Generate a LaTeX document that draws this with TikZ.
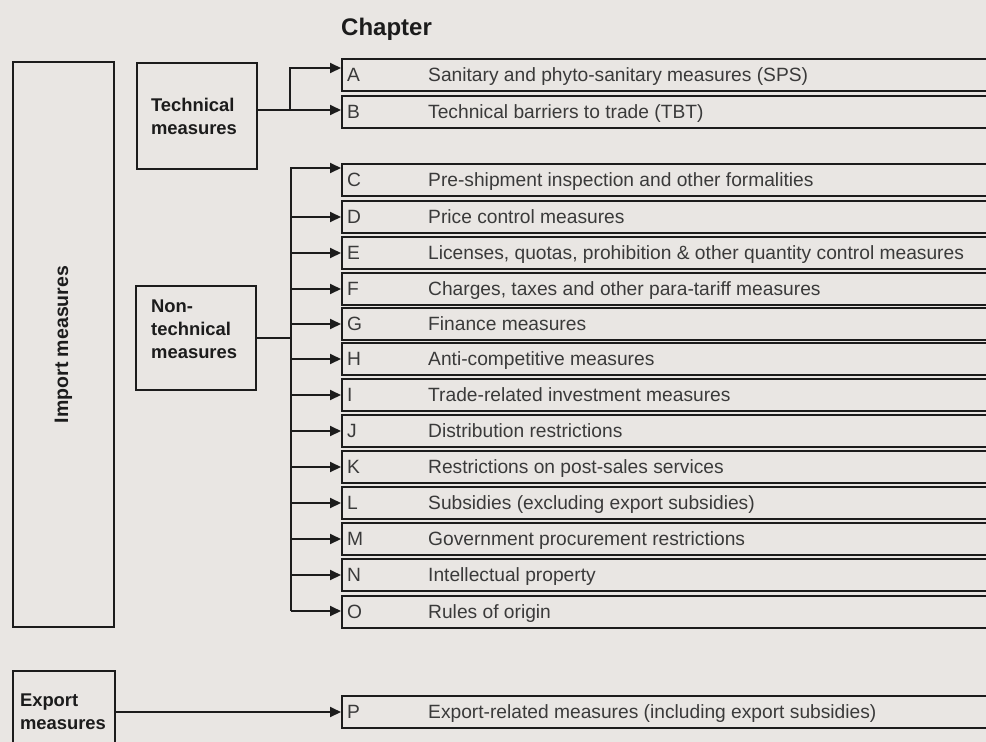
\documentclass[tikz,border=0pt]{standalone}
\usepackage{fontspec}
\setmainfont{Liberation Sans}
\usetikzlibrary{arrows.meta}
\definecolor{bg}{HTML}{E9E6E3}
\definecolor{ink}{HTML}{1C1C1C}
\definecolor{txt}{HTML}{3A3A3A}
% one chapter row: name, top, letter, text
\newcommand{\chaprow}[4]{%
  \node[chap] (#1) at (341,#2) {};
  \node[code] (#1l) at ([xshift=6pt,yshift=-6.7pt]#1.west) {#3};
  \node[code] (#1t) at ([xshift=87pt,yshift=-6.7pt]#1.west) {#4};}

\begin{document}
\begin{tikzpicture}[x=1pt, y=-1pt, >={Triangle[length=11pt,width=10pt]},
  every node/.style={font=\fontsize{19.2}{23}\selectfont, text=txt},
  frame/.style={draw=ink, line width=2pt},
  label/.style={align=left, font=\bfseries\fontsize{18.4}{23}\selectfont, text=ink},
  group/.style={frame, label, anchor=north west, inner ysep=0pt},
  chap/.style={frame, anchor=north west, inner sep=0pt, minimum width=680pt, minimum height=32pt},
  code/.style={anchor=base west, inner sep=0pt},
  link/.style={draw=ink, line width=2pt}]
\useasboundingbox (0,0) rectangle (986,742);
\fill[bg] (0,0) rectangle (986,742);
\clip (0,0) rectangle (986,742);

% Heading
\node[anchor=base west, inner sep=0pt, font=\bfseries\fontsize{24}{28}\selectfont, text=ink] (chaphead) at (341,35) {Chapter};

% Left boxes
\node[frame, anchor=north west, minimum width=101pt, minimum height=565pt] (imp) at (12,61) {};
\node[rotate=90, font=\bfseries\fontsize{19.5}{23}\selectfont, text=ink] (imptxt) at (imp.center) {Import measures};
\node[group, inner xsep=14pt, text width=92pt, minimum height=106pt] (tech) at (136,62) {Technical\\measures};
\node[group, inner xsep=16pt, text width=88pt, minimum height=104pt] (ntech) at (135,285) {};
\node[label, anchor=west, inner sep=0pt, text width=88pt] (ntechtxt) at ([xshift=16pt,yshift=9pt]ntech.west) {Non-\\technical\\measures};
\node[group, inner xsep=7pt, text width=88pt, minimum height=82pt] (expo) at (12,670) {Export\\measures};

% Chapter rows
\chaprow{chA}{58}{A}{Sanitary and phyto-sanitary measures (SPS)}
\chaprow{chB}{95}{B}{Technical barriers to trade (TBT)}
\chaprow{chC}{163}{C}{Pre-shipment inspection and other formalities}
\chaprow{chD}{200}{D}{Price control measures}
\chaprow{chE}{236}{E}{Licenses, quotas, prohibition \& other quantity control measures}
\chaprow{chF}{272}{F}{Charges, taxes and other para-tariff measures}
\chaprow{chG}{307}{G}{Finance measures}
\chaprow{chH}{342}{H}{Anti-competitive measures}
\chaprow{chI}{378}{I}{Trade-related investment measures}
\chaprow{chJ}{414}{J}{Distribution restrictions}
\chaprow{chK}{450}{K}{Restrictions on post-sales services}
\chaprow{chL}{486}{L}{Subsidies (excluding export subsidies)}
\chaprow{chM}{522}{M}{Government procurement restrictions}
\chaprow{chN}{558}{N}{Intellectual property}
\chaprow{chO}{595}{O}{Rules of origin}
\chaprow{chP}{695}{P}{Export-related measures (including export subsidies)}

% Technical branch
\coordinate (tsplit) at (290,110);
\draw[link] (tech.east |- tsplit) -- (tsplit);
\draw[link,->] (tsplit) -- (tsplit -| chB.west);
\draw[link,->] (tsplit) |- ([yshift=7pt]chA.west);

% Non-technical branch
\coordinate (ntop) at (291,167);
\coordinate (nbot) at (291,611);
\draw[link] (ntech.east) -- (ntech.east -| ntop);
\draw[link,->] (nbot) |- ([yshift=12pt]chC.west);
\foreach \r in {D,E,F,G,H,I,J,K,L,M,N}
  \draw[link,->] (ntop |- ch\r.west) -- (ch\r.west);
\draw[link,->] (nbot) -- (nbot -| chO.west);

% Export branch
\draw[link,->] (expo.east) -- (expo.east -| chP.west);
\end{tikzpicture}
\end{document}
